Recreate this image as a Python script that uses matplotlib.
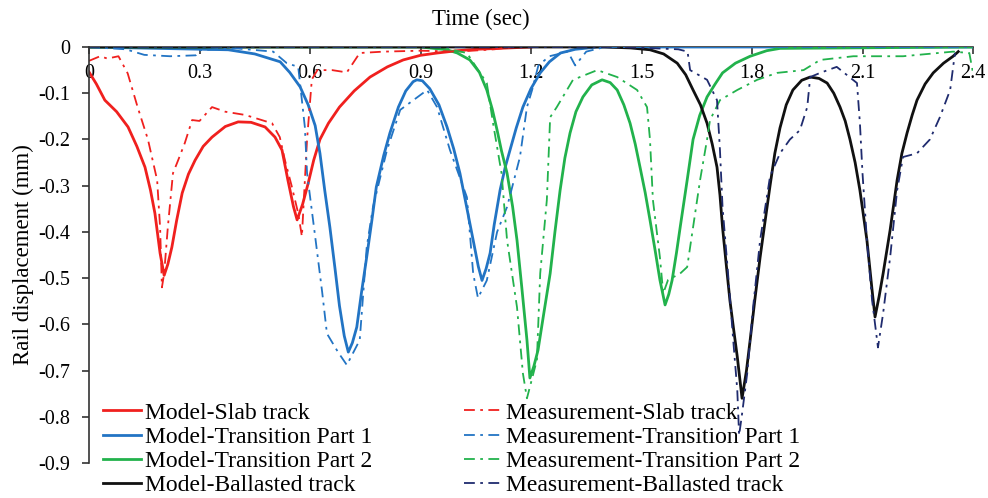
import numpy as np
import matplotlib
matplotlib.use('Agg')
import matplotlib.pyplot as plt

plt.rcParams['font.family'] = 'Liberation Serif'

### Data #######################################################################
# Model curves
slab_model_t = [0, 0.02, 0.043, 0.075, 0.106, 0.13, 0.152, 0.167, 0.179, 0.193, 0.204, 0.214, 0.225, 0.238, 0.253,
                0.27, 0.288, 0.31, 0.334, 0.37, 0.405, 0.44, 0.478, 0.505, 0.524, 0.54, 0.555, 0.565, 0.58, 0.595,
                0.61, 0.627, 0.65, 0.68, 0.72, 0.763, 0.81, 0.853, 0.9, 0.945, 1.0, 1.05, 1.2]
slab_model_d = [-0.054, -0.08, -0.115, -0.14, -0.173, -0.215, -0.26, -0.31, -0.36, -0.446, -0.494, -0.47, -0.433,
                -0.375, -0.316, -0.275, -0.245, -0.215, -0.195, -0.172, -0.162, -0.163, -0.173, -0.195, -0.223, -0.288,
                -0.345, -0.374, -0.34, -0.295, -0.245, -0.20, -0.165, -0.13, -0.095, -0.065, -0.043, -0.028, -0.018,
                -0.013, -0.008, -0.005, 0]

trans1_model_t = [0, 0.378, 0.45, 0.519, 0.545, 0.573, 0.595, 0.614, 0.627, 0.64, 0.654, 0.668, 0.68, 0.693, 0.704,
                  0.715, 0.727, 0.74, 0.754, 0.768, 0.78, 0.8, 0.817, 0.84, 0.86, 0.88, 0.89, 0.905, 0.925, 0.95,
                  0.972, 0.99, 1.007, 1.025, 1.043, 1.057, 1.067, 1.078, 1.089, 1.1, 1.116, 1.13, 1.143, 1.16, 1.178,
                  1.2, 1.225, 1.25, 1.28, 1.32, 1.38, 2.4]
trans1_model_d = [0, -0.006, -0.015, -0.032, -0.055, -0.086, -0.125, -0.17, -0.23, -0.31, -0.39, -0.48, -0.56, -0.625,
                  -0.66, -0.64, -0.606, -0.53, -0.454, -0.375, -0.303, -0.235, -0.186, -0.13, -0.095, -0.075, -0.071,
                  -0.073, -0.09, -0.125, -0.173, -0.22, -0.273, -0.345, -0.418, -0.475, -0.505, -0.48, -0.446, -0.385,
                  -0.31, -0.26, -0.223, -0.175, -0.13, -0.09, -0.056, -0.032, -0.013, -0.005, 0, 0]

trans2_model_t = [0, 0.9, 0.972, 1.0, 1.034, 1.06, 1.08, 1.095, 1.108, 1.12, 1.135, 1.15, 1.162, 1.175, 1.189, 1.197,
                  1.208, 1.219, 1.235, 1.252, 1.265, 1.279, 1.292, 1.306, 1.322, 1.341, 1.365, 1.393, 1.415, 1.434,
                  1.452, 1.469, 1.483, 1.496, 1.51, 1.523, 1.537, 1.55, 1.564, 1.574, 1.583, 1.595, 1.605, 1.624, 1.64,
                  1.658, 1.678, 1.70, 1.72, 1.755, 1.795, 1.84, 1.876, 2.4]
trans2_model_d = [0, 0, -0.006, -0.013, -0.028, -0.055, -0.093, -0.135, -0.18, -0.225, -0.273, -0.345, -0.418, -0.52,
                  -0.634, -0.716, -0.69, -0.656, -0.575, -0.49, -0.40, -0.31, -0.24, -0.186, -0.14, -0.108, -0.082,
                  -0.071, -0.077, -0.093, -0.125, -0.165, -0.21, -0.26, -0.315, -0.374, -0.44, -0.504, -0.558, -0.535,
                  -0.505, -0.445, -0.39, -0.288, -0.20, -0.148, -0.108, -0.08, -0.056, -0.035, -0.02, -0.008, -0.003, 0]

ballast_model_t = [0, 1.4, 1.47, 1.523, 1.56, 1.597, 1.62, 1.64, 1.66, 1.678, 1.692, 1.705, 1.713, 1.72, 1.73, 1.74,
                   1.75, 1.76, 1.773, 1.785, 1.795, 1.808, 1.822, 1.835, 1.849, 1.862, 1.876, 1.893, 1.911, 1.935,
                   1.958, 1.982, 2.004, 2.022, 2.039, 2.053, 2.066, 2.08, 2.093, 2.112, 2.126, 2.134, 2.145, 2.156,
                   2.175, 2.194, 2.207, 2.221, 2.235, 2.248, 2.27, 2.292, 2.32, 2.346, 2.36]
ballast_model_d = [0, 0, -0.002, -0.006, -0.015, -0.035, -0.06, -0.093, -0.125, -0.165, -0.21, -0.26, -0.32, -0.39,
                   -0.47, -0.548, -0.61, -0.67, -0.76, -0.70, -0.634, -0.545, -0.455, -0.38, -0.30, -0.23, -0.175,
                   -0.125, -0.093, -0.072, -0.065, -0.068, -0.078, -0.10, -0.13, -0.16, -0.20, -0.25, -0.31, -0.418,
                   -0.526, -0.584, -0.54, -0.49, -0.396, -0.288, -0.23, -0.186, -0.147, -0.115, -0.08, -0.056, -0.035,
                   -0.02, -0.01]

# Measured curves
slab_meas_t = [0, 0.03, 0.05, 0.08, 0.105, 0.132, 0.16, 0.185, 0.193, 0.198, 0.204, 0.214, 0.228, 0.242, 0.26, 0.28,
               0.30, 0.334, 0.37, 0.424, 0.497, 0.518, 0.532, 0.55, 0.568, 0.578, 0.592, 0.605, 0.62, 0.66, 0.70,
               0.735, 0.8, 0.9, 1.0, 1.1, 1.15]
slab_meas_d = [-0.03, -0.02, -0.025, -0.02, -0.057, -0.13, -0.20, -0.288, -0.39, -0.52, -0.49, -0.39, -0.273, -0.245,
               -0.208, -0.158, -0.16, -0.13, -0.14, -0.147, -0.165, -0.195, -0.245, -0.30, -0.36, -0.41, -0.20, -0.07,
               -0.05, -0.05, -0.055, -0.013, -0.01, -0.008, -0.01, -0.005, 0]

trans1_meas_t = [0, 0.1, 0.15, 0.22, 0.29, 0.3, 0.4, 0.5, 0.537, 0.568, 0.586, 0.592, 0.614, 0.633, 0.646, 0.676, 0.70,
                 0.735, 0.754, 0.771, 0.809, 0.845, 0.918, 0.945, 0.98, 1.026, 1.043, 1.056, 1.08, 1.108, 1.135, 1.17,
                 1.189, 1.203, 1.22, 1.25, 1.3, 1.32, 1.35, 1.4, 2.4]
trans1_meas_d = [0, -0.005, -0.017, -0.02, -0.018, -0.007, -0.003, -0.01, -0.035, -0.043, -0.173, -0.273, -0.41, -0.53,
                 -0.62, -0.66, -0.688, -0.634, -0.433, -0.346, -0.223, -0.136, -0.093, -0.13, -0.223, -0.325, -0.49,
                 -0.543, -0.505, -0.40, -0.346, -0.238, -0.13, -0.093, -0.04, -0.02, -0.01, -0.04, -0.01, 0, 0]

trans2_meas_t = [0, 0.95, 1.026, 1.08, 1.097, 1.12, 1.135, 1.162, 1.178, 1.189, 1.216, 1.225, 1.243, 1.252, 1.27,
                 1.314, 1.38, 1.434, 1.488, 1.515, 1.523, 1.531, 1.55, 1.559, 1.572, 1.605, 1.624, 1.64, 1.659, 1.678,
                 1.686, 1.713, 1.76, 1.814, 1.868, 1.94, 1.985, 2.075, 2.21, 2.346, 2.39, 2.4]
trans2_meas_d = [0, 0, -0.013, -0.078, -0.165, -0.273, -0.418, -0.563, -0.706, -0.76, -0.677, -0.49, -0.331, -0.152,
                 -0.13, -0.071, -0.05, -0.065, -0.093, -0.13, -0.20, -0.331, -0.455, -0.533, -0.504, -0.49, -0.476,
                 -0.39, -0.288, -0.20, -0.158, -0.115, -0.093, -0.071, -0.056, -0.05, -0.028, -0.02, -0.02, -0.01,
                 -0.013, -0.056]

ballast_meas_t = [0, 1.45, 1.6, 1.625, 1.632, 1.678, 1.705, 1.713, 1.72, 1.735, 1.749, 1.76, 1.765, 1.772, 1.787, 1.803,
                  1.822, 1.849, 1.876, 1.903, 1.93, 1.95, 1.958, 1.985, 2.03, 2.085, 2.093, 2.10, 2.112, 2.126, 2.142,
                  2.156, 2.175, 2.194, 2.21, 2.248, 2.283, 2.31, 2.338, 2.351]
ballast_meas_d = [0, 0, -0.005, -0.01, -0.05, -0.071, -0.115, -0.223, -0.346, -0.49, -0.634, -0.742, -0.84, -0.80,
                  -0.706, -0.563, -0.418, -0.28, -0.23, -0.20, -0.18, -0.13, -0.065, -0.056, -0.043, -0.078, -0.165,
                  -0.273, -0.418, -0.548, -0.65, -0.576, -0.455, -0.31, -0.238, -0.23, -0.20, -0.152, -0.093, -0.013]

x_ticks = [0, 0.3, 0.6, 0.9, 1.2, 1.5, 1.8, 2.1, 2.4]
x_tick_labels = ['0', '0.3', '0.6', '0.9', '1.2', '1.5', '1.8', '2.1', '2.4']
y_ticks = [0, -0.1, -0.2, -0.3, -0.4, -0.5, -0.6, -0.7, -0.8, -0.9]
y_tick_labels = ['0', '-0.1', '-0.2', '-0.3', '-0.4', '-0.5', '-0.6', '-0.7', '-0.8', '-0.9']
################################################################################

red = '#f0201e'
blue = '#2274c4'
green = '#22b24c'
black = '#111111'
navy = '#1f2b6e'
dashdot = (0, (6, 3, 1.5, 3))

fig = plt.figure(figsize=(9.88, 4.98), dpi=100)
ax = fig.add_axes([89/988, 1-463/498, 884/988, 416/498])

ax.plot(slab_model_t, slab_model_d, color=red, lw=2.0, label='Model-Slab track')
ax.plot(trans1_model_t, trans1_model_d, color=blue, lw=2.0, label='Model-Transition Part 1')
ax.plot(trans2_model_t, trans2_model_d, color=green, lw=2.0, label='Model-Transition Part 2')
ax.plot(ballast_model_t, ballast_model_d, color=black, lw=2.0, label='Model-Ballasted track')
ax.plot(slab_meas_t, slab_meas_d, color=red, lw=1.3, ls=dashdot, label='Measurement-Slab track')
ax.plot(trans1_meas_t, trans1_meas_d, color=blue, lw=1.3, ls=dashdot, label='Measurement-Transition Part 1')
ax.plot(trans2_meas_t, trans2_meas_d, color=green, lw=1.3, ls=dashdot, label='Measurement-Transition Part 2')
ax.plot(ballast_meas_t, ballast_meas_d, color=navy, lw=1.3, ls=dashdot, label='Measurement-Ballasted track')

ax.set_xlim(0, 2.4)
ax.set_ylim(-0.9, 0)

# x axis sits on the zero line at the top, labels hang below it
ax.spines['bottom'].set_position(('data', 0))
ax.spines['top'].set_visible(False)
ax.spines['right'].set_visible(False)
for s in ['bottom', 'left']:
    ax.spines[s].set_color('#333333')
    ax.spines[s].set_linewidth(1.2)
ax.spines['bottom'].set_zorder(1)

ax.set_xticks(x_ticks)
ax.set_xticklabels(x_tick_labels, fontsize=14.5)
ax.set_yticks(y_ticks)
ax.set_yticklabels(y_tick_labels, fontsize=14.5)
ax.tick_params(axis='both', direction='out', length=5, width=1.2, color='#333333')
ax.tick_params(axis='x', pad=7.5)
ax.tick_params(axis='y', pad=8.5)

ax.set_ylabel('Rail displacement (mm)', fontsize=16.5, labelpad=3)
fig.text(481/988, 1-19/498, 'Time (sec)', fontsize=16.5, ha='center', va='center')

ax.legend(loc='upper left', bbox_to_anchor=(103/988, 1-402/498), bbox_transform=fig.transFigure,
          ncol=2, frameon=False, fontsize=17, borderpad=0, borderaxespad=0, labelspacing=0.115,
          handlelength=1.6, handletextpad=0.17, columnspacing=3.9)

fig.savefig('out.png', dpi=100)
